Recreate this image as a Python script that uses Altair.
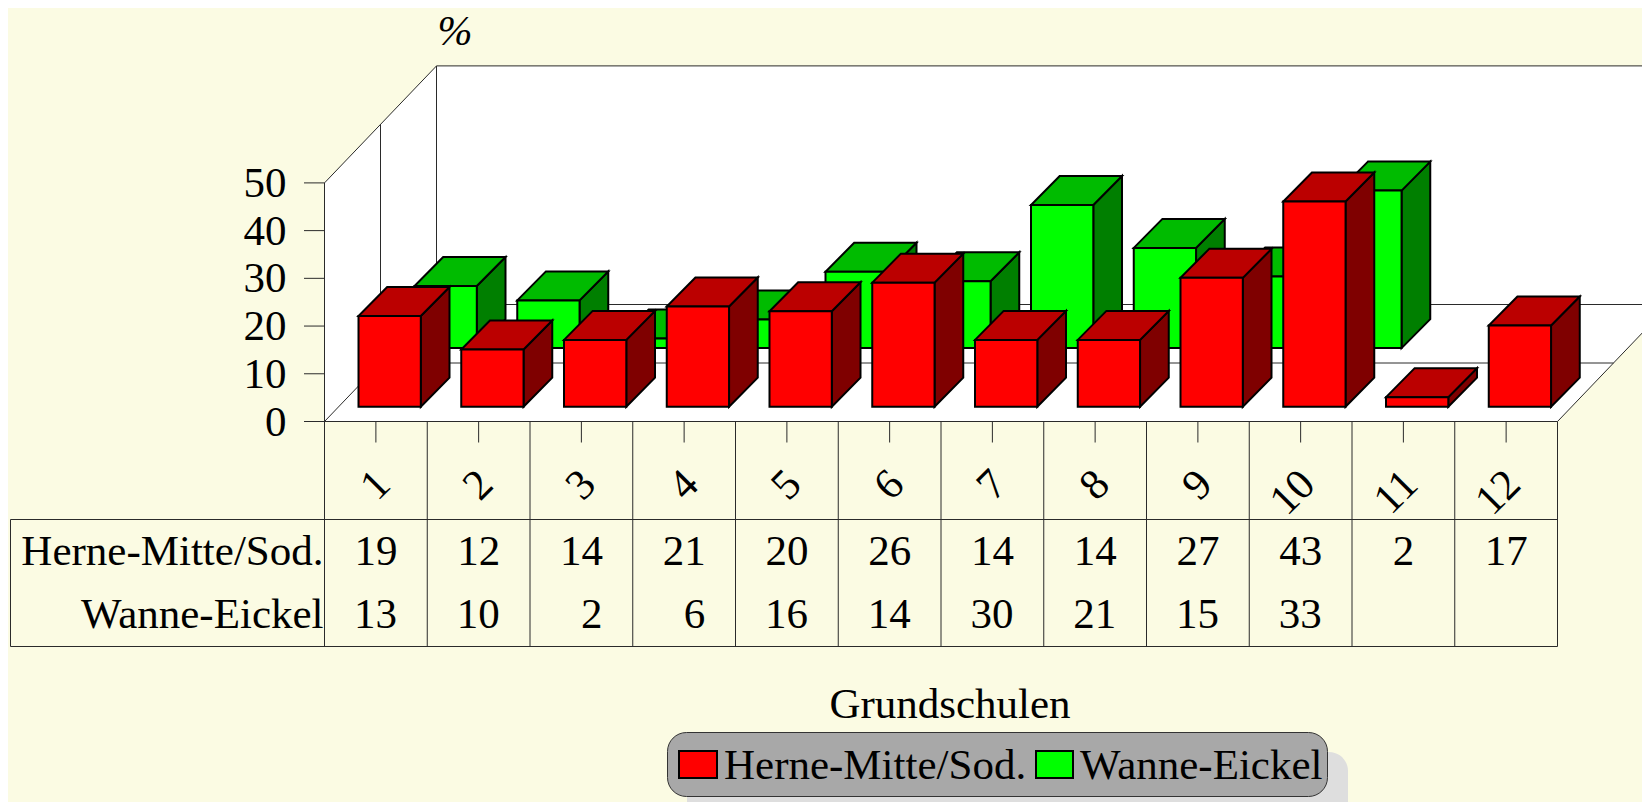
import altair as alt
import pandas as pd

categories = list(range(1, 13))
series_names = ["Herne-Mitte/Sod.", "Wanne-Eickel"]
red_values = [19, 12, 14, 21, 20, 26, 14, 14, 27, 43, 2, 17]
green_values = [13, 10, 2, 6, 16, 14, 30, 21, 15, 33, None, None]
y_ticks = [0, 10, 20, 30, 40, 50]
x_title = "Grundschulen"
y_title = "%"

FONT = "Liberation Serif"
BG = "#FBFBE3"
FS = 43

# page geometry of the scales
W, H = 1634, 794
OX, OY, CW, PV = 324.5, 421.5, 102.75, 4.772


def ux(px):
    return (px - OX) / CW


def uy(py):
    return (OY - py) / PV


xs = alt.Scale(domain=[ux(8), ux(8 + W)], range=[0, W], nice=False, zero=False)
ys = alt.Scale(domain=[uy(8 + H), uy(8)], range=[H, 0], nice=False, zero=False)
X = lambda f="x": alt.X(f"{f}:Q", scale=xs, axis=None)
Y = lambda f="y": alt.Y(f"{f}:Q", scale=ys, axis=None)


def rect(x1, x2, y1, y2, **kw):
    d = pd.DataFrame({"x": [ux(x1)], "x2": [ux(x2)], "y": [uy(y1)], "y2": [uy(y2)]})
    return alt.Chart(d).mark_rect(**kw).encode(X(), x2="x2:Q", y=Y(), y2="y2:Q")


def para_v(xa, xb, ya1, ya2, yb1, yb2, **kw):
    d = pd.DataFrame({"x": [ux(xa), ux(xb)], "y": [uy(ya1), uy(yb1)], "y2": [uy(ya2), uy(yb2)]})
    return alt.Chart(d).mark_area(orient="vertical", **kw).encode(X(), Y(), y2="y2:Q")


def para_h(ya, yb, xa1, xa2, xb1, xb2, **kw):
    d = pd.DataFrame({"y": [uy(ya), uy(yb)], "x": [ux(xa1), ux(xb1)], "x2": [ux(xa2), ux(xb2)]})
    return alt.Chart(d).mark_area(orient="horizontal", **kw).encode(Y(), X(), x2="x2:Q")


def text(df, **kw):
    return alt.Chart(df).mark_text(font=FONT, fontSize=kw.pop("fontSize", FS), color="black", **kw).encode(
        X(), Y(), text="t:N"
    )


# walls and floor
DX, DY = 112.0, 117.0
layers = [
    para_v(OX, OX + DX, OY, OY - 50 * PV, OY - DY, OY - DY - 50 * PV, fill="white"),
    rect(OX + DX, 1660, OY - DY - 50 * PV, OY - DY, fill="white"),
    para_h(OY, OY - DY, OX, OX + 12 * CW, OX + DX, OX + 12 * CW + DX, fill="white"),
]

# frame lines
segs = []


def seg(x1, y1, x2, y2):
    n = len(segs)
    segs.append({"id": n, "x": ux(x1), "y": uy(y1)})
    segs.append({"id": n, "x": ux(x2), "y": uy(y2)})


ROW, BOT, LEFT = 519.5, 646.5, 10.5
R = OX + 12 * CW
T = OY - 50 * PV
seg(OX, T, OX + DX, T - DY)
seg(OX + DX, T - DY, 1660, T - DY)
seg(OX + DX, T - DY, OX + DX, OY - DY)
seg(OX + DX / 2, T - DY / 2, OX + DX / 2, OY - DY / 2)
seg(OX, T, OX, BOT)
seg(OX, OY, OX + DX, OY - DY)
seg(OX + DX, OY - DY, 1660, OY - DY)
seg(OX + DX / 2, OY - DY / 2, R + DX / 2, OY - DY / 2)
seg(R, OY, R + DX, OY - DY)
seg(304, OY, R, OY)
for v in y_ticks[1:]:
    seg(304, OY - v * PV, OX, OY - v * PV)
for i in range(1, 13):
    seg(OX + i * CW, OY, OX + i * CW, BOT)
for i in range(12):
    seg(OX + (i + 0.5) * CW, OY, OX + (i + 0.5) * CW, 442.5)
seg(LEFT, ROW, R, ROW)
seg(LEFT, BOT, R, BOT)
seg(LEFT, ROW, LEFT, BOT)
layers.append(
    alt.Chart(pd.DataFrame(segs))
    .mark_line(color="#2a2a2a", strokeWidth=1)
    .encode(X(), Y(), detail="id:N")
)

# bars
BW, BDX, BDY = 62.3, 28.7, 29.0
STROKE = dict(stroke="black", strokeWidth=2, strokeJoin="miter")


def bars(values, level, front, top, side):
    sx = 34.0 + 56.0 * level
    sy = 14.8 + 58.6 * level
    f, s, t = [], [], []
    for i, v in enumerate(values):
        if v is None:
            continue
        l = i + sx / CW
        r = l + BW / CW
        b = sy / PV
        tp = b + v
        dx, dy = BDX / CW, BDY / PV
        f.append({"x": l, "x2": r, "y": b, "y2": tp})
        s.append({"bar": i, "x": r, "y": b, "y2": tp})
        s.append({"bar": i, "x": r + dx, "y": b + dy, "y2": tp + dy})
        t.append({"bar": i, "y": tp, "x": l, "x2": r})
        t.append({"bar": i, "y": tp + dy, "x": l + dx, "x2": r + dx})
    return [
        alt.Chart(pd.DataFrame(s)).mark_area(orient="vertical", fill=side, **STROKE)
        .encode(X(), Y(), y2="y2:Q", detail="bar:N"),
        alt.Chart(pd.DataFrame(t)).mark_area(orient="horizontal", fill=top, **STROKE)
        .encode(Y(), X(), x2="x2:Q", detail="bar:N"),
        alt.Chart(pd.DataFrame(f)).mark_rect(fill=front, **STROKE)
        .encode(X(), x2="x2:Q", y=Y(), y2="y2:Q"),
    ]


layers += bars(green_values, 1, "#00FF00", "#00BB00", "#007F00")
layers += bars(red_values, 0, "#FF0000", "#BB0000", "#7F0000")

# y tick labels
layers.append(
    text(
        pd.DataFrame({"x": [0.0] * len(y_ticks), "y": y_ticks, "t": [str(v) for v in y_ticks]}),
        align="right",
        baseline="middle",
        dx=-38,
        dy=1,
    )
)
# rotated category labels
layers.append(
    text(
        pd.DataFrame(
            {"x": [i + 0.5 + 7.4 / CW for i in range(12)], "y": [uy(477.5)] * 12, "t": [str(c) for c in categories]}
        ),
        align="right",
        baseline="middle",
        angle=315,
    )
)
# table
row1 = pd.DataFrame({"x": [i + 0.5 for i in range(12)], "y": [uy(565)] * 12, "t": [str(v) for v in red_values]})
gv = [(i, v) for i, v in enumerate(green_values) if v is not None]
row2 = pd.DataFrame({"x": [i + 0.5 for i, _ in gv], "y": [uy(628)] * len(gv), "t": [str(v) for _, v in gv]})
layers.append(text(row1, align="center", baseline="alphabetic"))
layers.append(text(row2, align="right", baseline="alphabetic", dx=21))
names = pd.DataFrame({"x": [ux(323.5)] * 2, "y": [uy(565), uy(628)], "t": series_names})
layers.append(text(names, align="right", baseline="alphabetic"))

# titles
layers.append(
    text(
        pd.DataFrame({"x": [ux(455)], "y": [uy(45)], "t": [y_title]}),
        align="center",
        baseline="alphabetic",
        fontStyle="italic",
        fontSize=42,
    )
)
layers.append(
    text(
        pd.DataFrame({"x": [ux(950)], "y": [uy(718)], "t": [x_title]}),
        align="center",
        baseline="alphabetic",
    )
)

# legend
layers.append(rect(687, 1348, 752, 830, fill="#DEDEDE", cornerRadius=19))
layers.append(rect(667.5, 1327.5, 732.5, 796.5, fill="#A8A8A8", stroke="#333", strokeWidth=1, cornerRadius=19))
layers.append(rect(679, 717, 751, 778, fill="#FF0000", stroke="black", strokeWidth=2))
layers.append(rect(1036, 1073, 751, 778, fill="#00FF00", stroke="black", strokeWidth=2))
layers.append(
    text(
        pd.DataFrame({"x": [ux(724), ux(1080)], "y": [uy(778.5)] * 2, "t": series_names}),
        align="left",
        baseline="alphabetic",
    )
)

chart = (
    alt.layer(*layers)
    .properties(
        width=W,
        height=H,
        padding=0,
        background=BG,
        autosize=alt.AutoSizeParams(type="none"),
    )
    .configure_view(stroke=None)
)
chart.save("out.html", embed_options={"renderer": "svg", "actions": False})
